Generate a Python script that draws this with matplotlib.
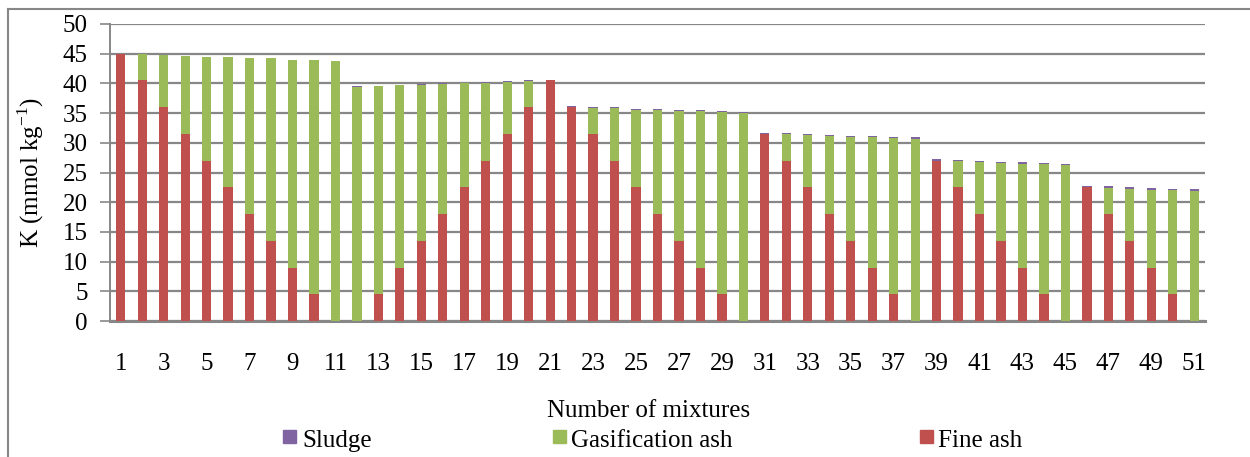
import numpy as np
import matplotlib
matplotlib.use('Agg')
import matplotlib.pyplot as plt
from matplotlib.patches import Rectangle
from matplotlib.lines import Line2D

plt.rcParams['font.family'] = ['Liberation Serif', 'DejaVu Serif']
plt.rcParams['mathtext.fontset'] = 'custom'
plt.rcParams['mathtext.rm'] = 'Liberation Serif'

# K content (mmol/kg) contributed by each component, mixtures 1..51
mixtures = list(range(1, 52))
fine_ash = [45, 40.5, 36, 31.5, 27, 22.5, 18, 13.5, 9, 4.5, 0,
            0, 4.5, 9, 13.5, 18, 22.5, 27, 31.5, 36, 40.5,
            36, 31.5, 27, 22.5, 18, 13.5, 9, 4.5, 0,
            31.5, 27, 22.5, 18, 13.5, 9, 4.5, 0,
            27, 22.5, 18, 13.5, 9, 4.5, 0,
            22.5, 18, 13.5, 9, 4.5, 0]
gasification_ash = [0, 4.4, 8.8, 13.1, 17.5, 21.9, 26.3, 30.7, 35.0, 39.4, 43.8,
                    39.4, 35.0, 30.7, 26.3, 21.9, 17.5, 13.1, 8.8, 4.4, 0,
                    0, 4.4, 8.8, 13.1, 17.5, 21.9, 26.3, 30.7, 35.0,
                    0, 4.4, 8.8, 13.1, 17.5, 21.9, 26.3, 30.7,
                    0, 4.4, 8.8, 13.1, 17.5, 21.9, 26.3,
                    0, 4.4, 8.8, 13.1, 17.5, 21.9]
sludge = [0] * 11 + [0.1] * 10 + [0.15] * 9 + [0.2] * 8 + [0.2] * 7 + [0.25] * 6

xtick_labels = [str(m) for m in mixtures[::2]]

RED = '#C0504D'
GREEN = '#9BBB59'
PURPLE = '#8064A2'
GRID = '#878787'
FS = 18

W, H = 1250, 457
fig = plt.figure(figsize=(W / 100, H / 100), dpi=100)
ax = fig.add_axes([110 / W, 1 - 321 / H, (1205 - 110) / W, (321 - 24) / H])

x = np.array(mixtures)
fa = np.array(fine_ash)
ga = np.array(gasification_ash)
sl = np.array(sludge)
bw = 0.43
ax.bar(x, fa, bw, color=RED, zorder=3)
ax.bar(x, ga, bw, bottom=fa, color=GREEN, zorder=3)
ax.bar(x, sl, bw, bottom=fa + ga, color=PURPLE, zorder=3)

ax.set_xlim(0.5, 51.5)
ax.set_ylim(0, 50)
ax.set_yticks(np.arange(0, 51, 5))
ax.set_xticks(x[::2])
ax.set_xticklabels(xtick_labels)
ax.tick_params(axis='x', length=0, pad=23, labelsize=FS)
ax.tick_params(axis='y', length=7, width=1.2, color=GRID, labelsize=FS, pad=9)
ax.yaxis.grid(True, color=GRID, linewidth=1.6, zorder=0)
ax.set_axisbelow(True)
for s in ['top', 'right']:
    ax.spines[s].set_visible(False)
ax.spines['left'].set_color(GRID)
ax.spines['left'].set_linewidth(1.4)
ax.spines['bottom'].set_color(GRID)
ax.spines['bottom'].set_linewidth(2.2)

ax.set_ylabel('K (mmol kg$^{\\mathrm{-1}}$)', fontsize=FS)
ax.yaxis.set_label_coords(-64 / 1095, 0.5)

fig.text(649 / W, 1 - 411 / H, 'Number of mixtures', ha='center', va='center', fontsize=FS)

# legend, laid out like the original
legend_items = [('Sludge', PURPLE, 283, 302), ('Gasification ash', GREEN, 553, 571),
                ('Fine ash', RED, 920, 938)]
for name, col, px, tx in legend_items:
    fig.add_artist(Rectangle((px / W, 1 - 443 / H), 13 / W, 13 / H,
                             transform=fig.transFigure, color=col))
    fig.text(tx / W, 1 - 447 / H, name, ha='left', va='baseline', fontsize=FS)

# chart-area border (cut off on the right and bottom)
fig.add_artist(Line2D([8 / W, 8 / W], [0, 1 - 9 / H], transform=fig.transFigure,
                      color=GRID, linewidth=1.5))
fig.add_artist(Line2D([8 / W, 1], [1 - 9 / H, 1 - 9 / H], transform=fig.transFigure,
                      color=GRID, linewidth=1.5))

fig.savefig('out.png', dpi=100)
